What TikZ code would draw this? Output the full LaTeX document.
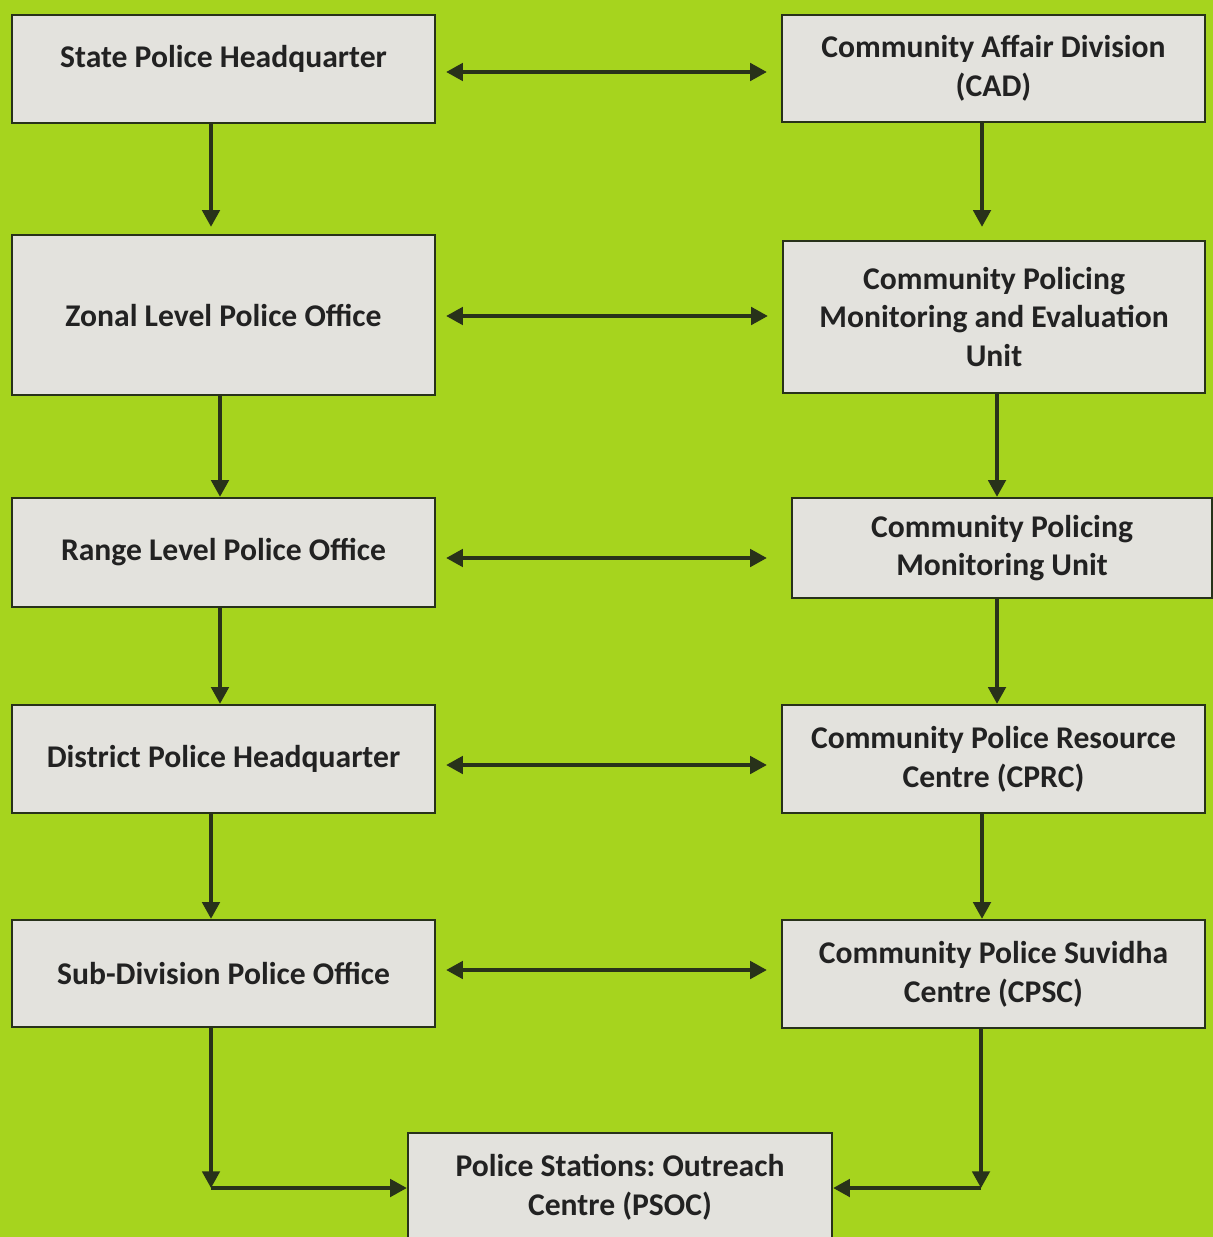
\documentclass[tikz,border=0pt]{standalone}
\usepackage{fontspec}
\setmainfont{Carlito}
\frenchspacing
\usetikzlibrary{arrows.meta}
\definecolor{leaf}{RGB}{166,212,30}
\definecolor{boxgray}{RGB}{227,226,221}
\definecolor{boxline}{RGB}{40,50,26}
\definecolor{inkgray}{RGB}{34,34,34}
\tikzset{
    unitbox/.style={draw=boxline,line width=1.4pt,fill=boxgray,text=inkgray,
        font=\fontsize{18}{22}\selectfont\bfseries,align=center,inner sep=0pt,
        minimum width=8.46cm,minimum height=2.16cm},
    link/.style={draw=boxline,line width=1.8pt,->},
    twoway/.style={link,<->,shorten <=0.2cm,shorten >=0.28cm}
}
\begin{document}
\begin{tikzpicture}[x=0.02cm,y=-0.02cm,>={Triangle[length=9.5pt,width=10pt]}]
                        \clip (0,0) rectangle (1213,1237);
                        \fill[leaf] (0,0) rectangle (1213,1237);
                        \node[unitbox,text depth=0.5cm] (sphq) at (223.5,69) {State Police Headquarter};
                        \node[unitbox,minimum height=3.2cm] (zlpo) at (223.5,315) {Zonal Level Police Office};
                        \node[unitbox,minimum height=2.18cm] (rlpo) at (223.5,552.5) {Range Level Police Office};
                        \node[unitbox] (dphq) at (223.5,759) {District Police Headquarter};
                        \node[unitbox,minimum height=2.14cm] (sdpo) at (223.5,973.5) {Sub-Division Police Office};
                        \node[unitbox,minimum height=2.14cm] (cad) at (993.5,68.5) {Community Affair Division\\(CAD)};
                        \node[unitbox,minimum width=8.44cm,minimum height=3.04cm] (cpmeu) at (994,317) {Community Policing\\Monitoring and Evaluation\\Unit};
                        \node[unitbox,minimum width=8.4cm,minimum height=2cm] (cpmu) at (1002,548) {Community Policing\\Monitoring Unit};
                        \node[unitbox] (cprc) at (993.5,759) {Community Police Resource\\Centre (CPRC)};
                        \node[unitbox] (cpsc) at (993.5,974) {Community Police Suvidha\\Centre (CPSC)};
                        \node[unitbox,minimum width=8.48cm] (psoc) at (620,1187) {Police Stations: Outreach\\Centre (PSOC)};
                        \coordinate (lcorner) at (211,1188);
                        \coordinate (rcorner) at (981,1188);
                        \draw[twoway] (sphq.east |- 0,72) -- (cad.west |- 0,72);
                        \draw[twoway] (zlpo.east |- 0,316) -- (cpmeu.west |- 0,316);
                        \draw[twoway,shorten >=0.48cm] (rlpo.east |- 0,558) -- (cpmu.west |- 0,558);
                        \draw[twoway] (dphq.east |- 0,765) -- (cprc.west |- 0,765);
                        \draw[twoway] (sdpo.east |- 0,970) -- (cpsc.west |- 0,970);
                        \draw[link,shorten >=0.14cm] (sphq.south -| 211,0) -- (zlpo.north -| 211,0);
                        \draw[link] (zlpo.south -| 220,0) -- (rlpo.north -| 220,0);
                        \draw[link] (rlpo.south -| 220,0) -- (dphq.north -| 220,0);
                        \draw[link] (dphq.south -| 211,0) -- (sdpo.north -| 211,0);
                        \draw[link] (sdpo.south -| 211,0) -- (lcorner);
                        \draw[link] (lcorner) -- (psoc.west |- lcorner);
                        \draw[link,shorten >=0.26cm] (cad.south -| 982,0) -- (cpmeu.north -| 982,0);
                        \draw[link] (cpmeu.south -| 997,0) -- (cpmu.north -| 997,0);
                        \draw[link] (cpmu.south -| 997,0) -- (cprc.north -| 997,0);
                        \draw[link] (cprc.south -| 982,0) -- (cpsc.north -| 982,0);
                        \draw[link] (cpsc.south -| 981,0) -- (rcorner);
                        \draw[link] (rcorner) -- (psoc.east |- rcorner);
                    \end{tikzpicture}
\end{document}
